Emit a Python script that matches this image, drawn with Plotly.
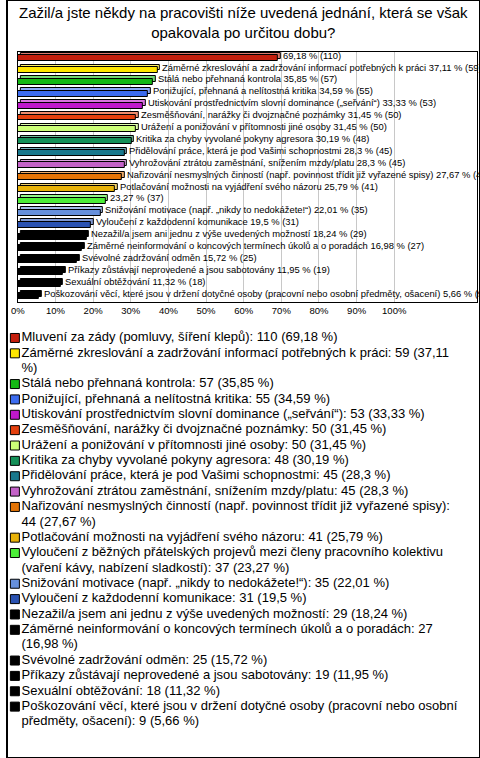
import plotly.graph_objects as go

# ---- data (159 respondents) ----
categories = [
    "Mluvení za zády (pomluvy, šíření klepů)",
    "Záměrné zkreslování a zadržování informací potřebných k práci",
    "Stálá nebo přehnaná kontrola",
    "Ponižující, přehnaná a nelítostná kritika",
    "Utiskování prostřednictvím slovní dominance („seřvání“)",
    "Zesměšňování, narážky či dvojznačné poznámky",
    "Urážení a ponižování v přítomnosti jiné osoby",
    "Kritika za chyby vyvolané pokyny agresora",
    "Přidělování práce, která je pod Vašimi schopnostmi",
    "Vyhrožování ztrátou zaměstnání, snížením mzdy/platu",
    "Nařizování nesmyslných činností (např. povinnost třídit již vyřazené spisy)",
    "Potlačování možnosti na vyjádření svého názoru",
    "Vyloučení z běžných přátelských projevů mezi členy pracovního kolektivu (vaření kávy, nabízení sladkostí)",
    "Snižování motivace (např. „nikdy to nedokážete!“)",
    "Vyloučení z každodenní komunikace",
    "Nezažil/a jsem ani jednu z výše uvedených možností",
    "Záměrné neinformování o koncových termínech úkolů a o poradách",
    "Svévolné zadržování odměn",
    "Příkazy zůstávají neprovedené a jsou sabotovány",
    "Sexuální obtěžování",
    "Poškozování věcí, které jsou v držení dotyčné osoby (pracovní nebo osobní předměty, ošacení)",
]
counts = [110, 59, 57, 55, 53, 50, 50, 48, 45, 45, 44, 41, 37, 35, 31, 29, 27, 25, 19, 18, 9]
percents = [69.18, 37.11, 35.85, 34.59, 33.33, 31.45, 31.45, 30.19, 28.3, 28.3, 27.67,
            25.79, 23.27, 22.01, 19.5, 18.24, 16.98, 15.72, 11.95, 11.32, 5.66]
colors = [
    "#C41E0C", "#FFE600", "#14B814", "#3C6CF0", "#C018CC", "#E4400E", "#CCFF77",
    "#149058", "#18788C", "#C462C8", "#E47406", "#E8B208", "#4CEE38", "#6690DC",
    "#2A52B2", "#000000", "#000000", "#000000", "#000000", "#000000", "#000000",
]
x_ticks = [0, 10, 20, 30, 40, 50, 60, 70, 80, 90, 100]

# rows whose bar label shows only the numbers
no_name_rows = [0, 12]
# legend entries that wrap: number of words on the first line
legend_wrap = {1: 10, 10: 9, 12: 9, 16: 10, 20: 11}

W, H = 480, 758
FONT = "Liberation Sans, Arial, sans-serif"


def fmt(p):
    return f"{p:g}".replace(".", ",")


def lighten(c, f=0.4):
    r, g, b = (int(c[i:i + 2], 16) for i in (1, 3, 5))
    if r + g + b == 0:
        return c
    r, g, b = (round(v + (255 - v) * f) for v in (r, g, b))
    return f"#{r:02X}{g:02X}{b:02X}"


bar_text = [
    f"\u00a0{fmt(p)} % ({n})" if i in no_name_rows else f"\u00a0{name} {fmt(p)} % ({n})"
    for i, (name, p, n) in enumerate(zip(categories, percents, counts))
]

fig = go.Figure()

# back face of the pseudo-3D bars (a bit up and right), carries the labels
fig.add_trace(go.Bar(
    y=categories, x=percents, base=0.7, orientation="h",
    width=0.5, offset=-0.45,
    marker=dict(color=[lighten(c) for c in colors], line=dict(color="black", width=1)),
    text=bar_text, textposition="outside", constraintext="none", cliponaxis=False,
    textfont=dict(family=FONT, size=9.4, color="black"),
    hoverinfo="skip", showlegend=False,
))
# front face
fig.add_trace(go.Bar(
    y=categories, x=percents, orientation="h",
    width=0.5, offset=-0.25,
    marker=dict(color=colors, line=dict(color="black", width=1)),
    showlegend=False,
))

# legend drawn as a column of squares + text under the plot
leg_x, leg_y, leg_text, leg_col, leg_lw = [], [], [], [], []
line_no = 0
for i, (name, n, p) in enumerate(zip(categories, counts, percents)):
    words = f"{name}: {n} ({fmt(p)} %)".split(" ")
    k = legend_wrap.get(i, len(words))
    lines = [" ".join(words[:k])]
    if k < len(words):
        lines.append(" ".join(words[k:]))
    for j, ln in enumerate(lines):
        leg_x.append(0)
        leg_y.append(-line_no)
        leg_text.append(ln)
        leg_col.append(colors[i] if j == 0 else "rgba(0,0,0,0)")
        leg_lw.append(1 if j == 0 else 0)
        line_no += 1

fig.add_trace(go.Scatter(
    x=leg_x, y=leg_y, xaxis="x2", yaxis="y2",
    mode="markers+text", text=leg_text, textposition="middle right",
    textfont=dict(family=FONT, size=13, color="black"),
    marker=dict(symbol="square", size=9, color=leg_col,
                line=dict(color="black", width=leg_lw)),
    cliponaxis=False, hoverinfo="skip", showlegend=False,
))

# pixel layout of the plot area and legend block
plot_l, plot_r, plot_t, plot_b = 11, 477, 52, 302
leg_top, pitch = 330.3, 15.36
leg_bot = leg_top + pitch * line_no

fig.update_layout(
    width=W, height=H,
    margin=dict(l=0, r=0, t=0, b=0),
    paper_bgcolor="white", plot_bgcolor="white",
    barmode="overlay", bargap=0,
    font=dict(family=FONT, color="black"),
    xaxis=dict(
        domain=[plot_l / W, plot_r / W], range=[0, 122],
        tickvals=x_ticks, ticktext=[f"{v}%" for v in x_ticks],
        tickfont=dict(family=FONT, size=9.5, color="black"),
        showgrid=True, gridcolor="#C8C8C8", gridwidth=1,
        showline=True, linecolor="black", linewidth=1, mirror=True,
        zeroline=False, ticks="", fixedrange=True,
    ),
    yaxis=dict(
        domain=[1 - plot_b / H, 1 - plot_t / H],
        autorange="reversed", showticklabels=False, showgrid=False,
        showline=True, linecolor="black", linewidth=1, mirror=True,
        ticks="", fixedrange=True,
    ),
    xaxis2=dict(domain=[8 / W, 1], range=[0, 1], visible=False, anchor="y2"),
    yaxis2=dict(domain=[1 - leg_bot / H, 1 - leg_top / H],
                range=[-(line_no - 0.5), 0.5], visible=False, anchor="x2"),
    annotations=[dict(
        text="Zažil/a jste někdy na pracovišti níže uvedená jednání, která se však<br>"
             "opakovala po určitou dobu?",
        xref="paper", yref="paper", x=0.5, y=1 - 22.5 / H,
        xanchor="center", yanchor="middle", showarrow=False,
        font=dict(family=FONT, size=15, color="black"),
    )],
    shapes=[dict(type="rect", xref="paper", yref="paper", x0=0, x1=1, y0=0, y1=1,
                 line=dict(color="black", width=2), layer="above")],
)

fig.write_html(
    "out.html",
    config={"displayModeBar": False},
    post_script="document.body.style.margin='0';document.body.style.overflow='hidden';",
)
